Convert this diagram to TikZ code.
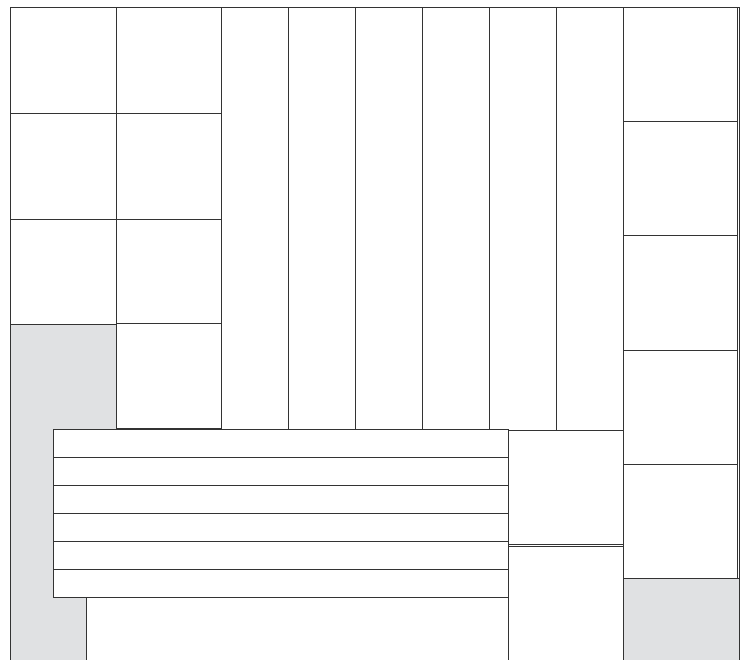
\documentclass[tikz,border=0pt]{standalone}
\usepackage{tikz}
\definecolor{tilegrey}{HTML}{E0E1E3}
\definecolor{tileline}{HTML}{333333}
\tikzset{
  tile/.style={draw=tileline,line width=0.5pt,fill=white},
  filler/.style={draw=tileline,line width=0.5pt,fill=tilegrey}
}
\begin{document}
\begin{tikzpicture}[x={(0.02cm,0cm)}, y={(0cm,-0.02cm)}]
  \useasboundingbox (0,0) rectangle (748,660);
  \clip (0,0) rectangle (748,660);

  % Filler areas
  \draw[filler] (10.5,324.3) -- (116.3,324.3) -- (116.3,429.3) -- (53.7,429.3)
    -- (53.7,597.7) -- (86,597.7) -- (86,665) -- (10.5,665) -- cycle;
  \draw[filler] (623.7,578.3) rectangle (739.5,665);

  % Left columns
  \foreach \ya/\yb in {7.5/113.3,113.3/219,219/324.3}
    \draw[tile] (10.5,\ya) rectangle (116.3,\yb);
  \foreach \ya/\yb in {7.5/113.3,113.3/219,219/323,323/428.7}
    \draw[tile] (116.3,\ya) rectangle (221.7,\yb);

  % Vertical strips
  \foreach \i in {0,...,5}
    \draw[tile] (221.7+67*\i,7.5) rectangle (288.7+67*\i,430);

  % Planks
  \foreach \i in {0,...,5}
    \draw[tile] (53.7,429.3+28.07*\i) rectangle (508.7,457.4+28.07*\i);
  \draw[tile] (86,597.7) rectangle (508.7,665);

  % Middle right
  \draw[tile] (508.7,430) rectangle (623.7,544.7);
  \draw[tile] (508.7,546.7) rectangle (623.7,665);

  % Right column
  \foreach \i in {0,...,4}
    \draw[tile] (623.7,7.5+114.16*\i) rectangle (737.5,121.66+114.16*\i);
  \draw[draw=tileline,line width=0.5pt] (739.5,7.5) -- (739.5,665);
  \draw[draw=tileline,line width=0.5pt] (737.5,7.5) -- (739.5,7.5);
\end{tikzpicture}
\end{document}
